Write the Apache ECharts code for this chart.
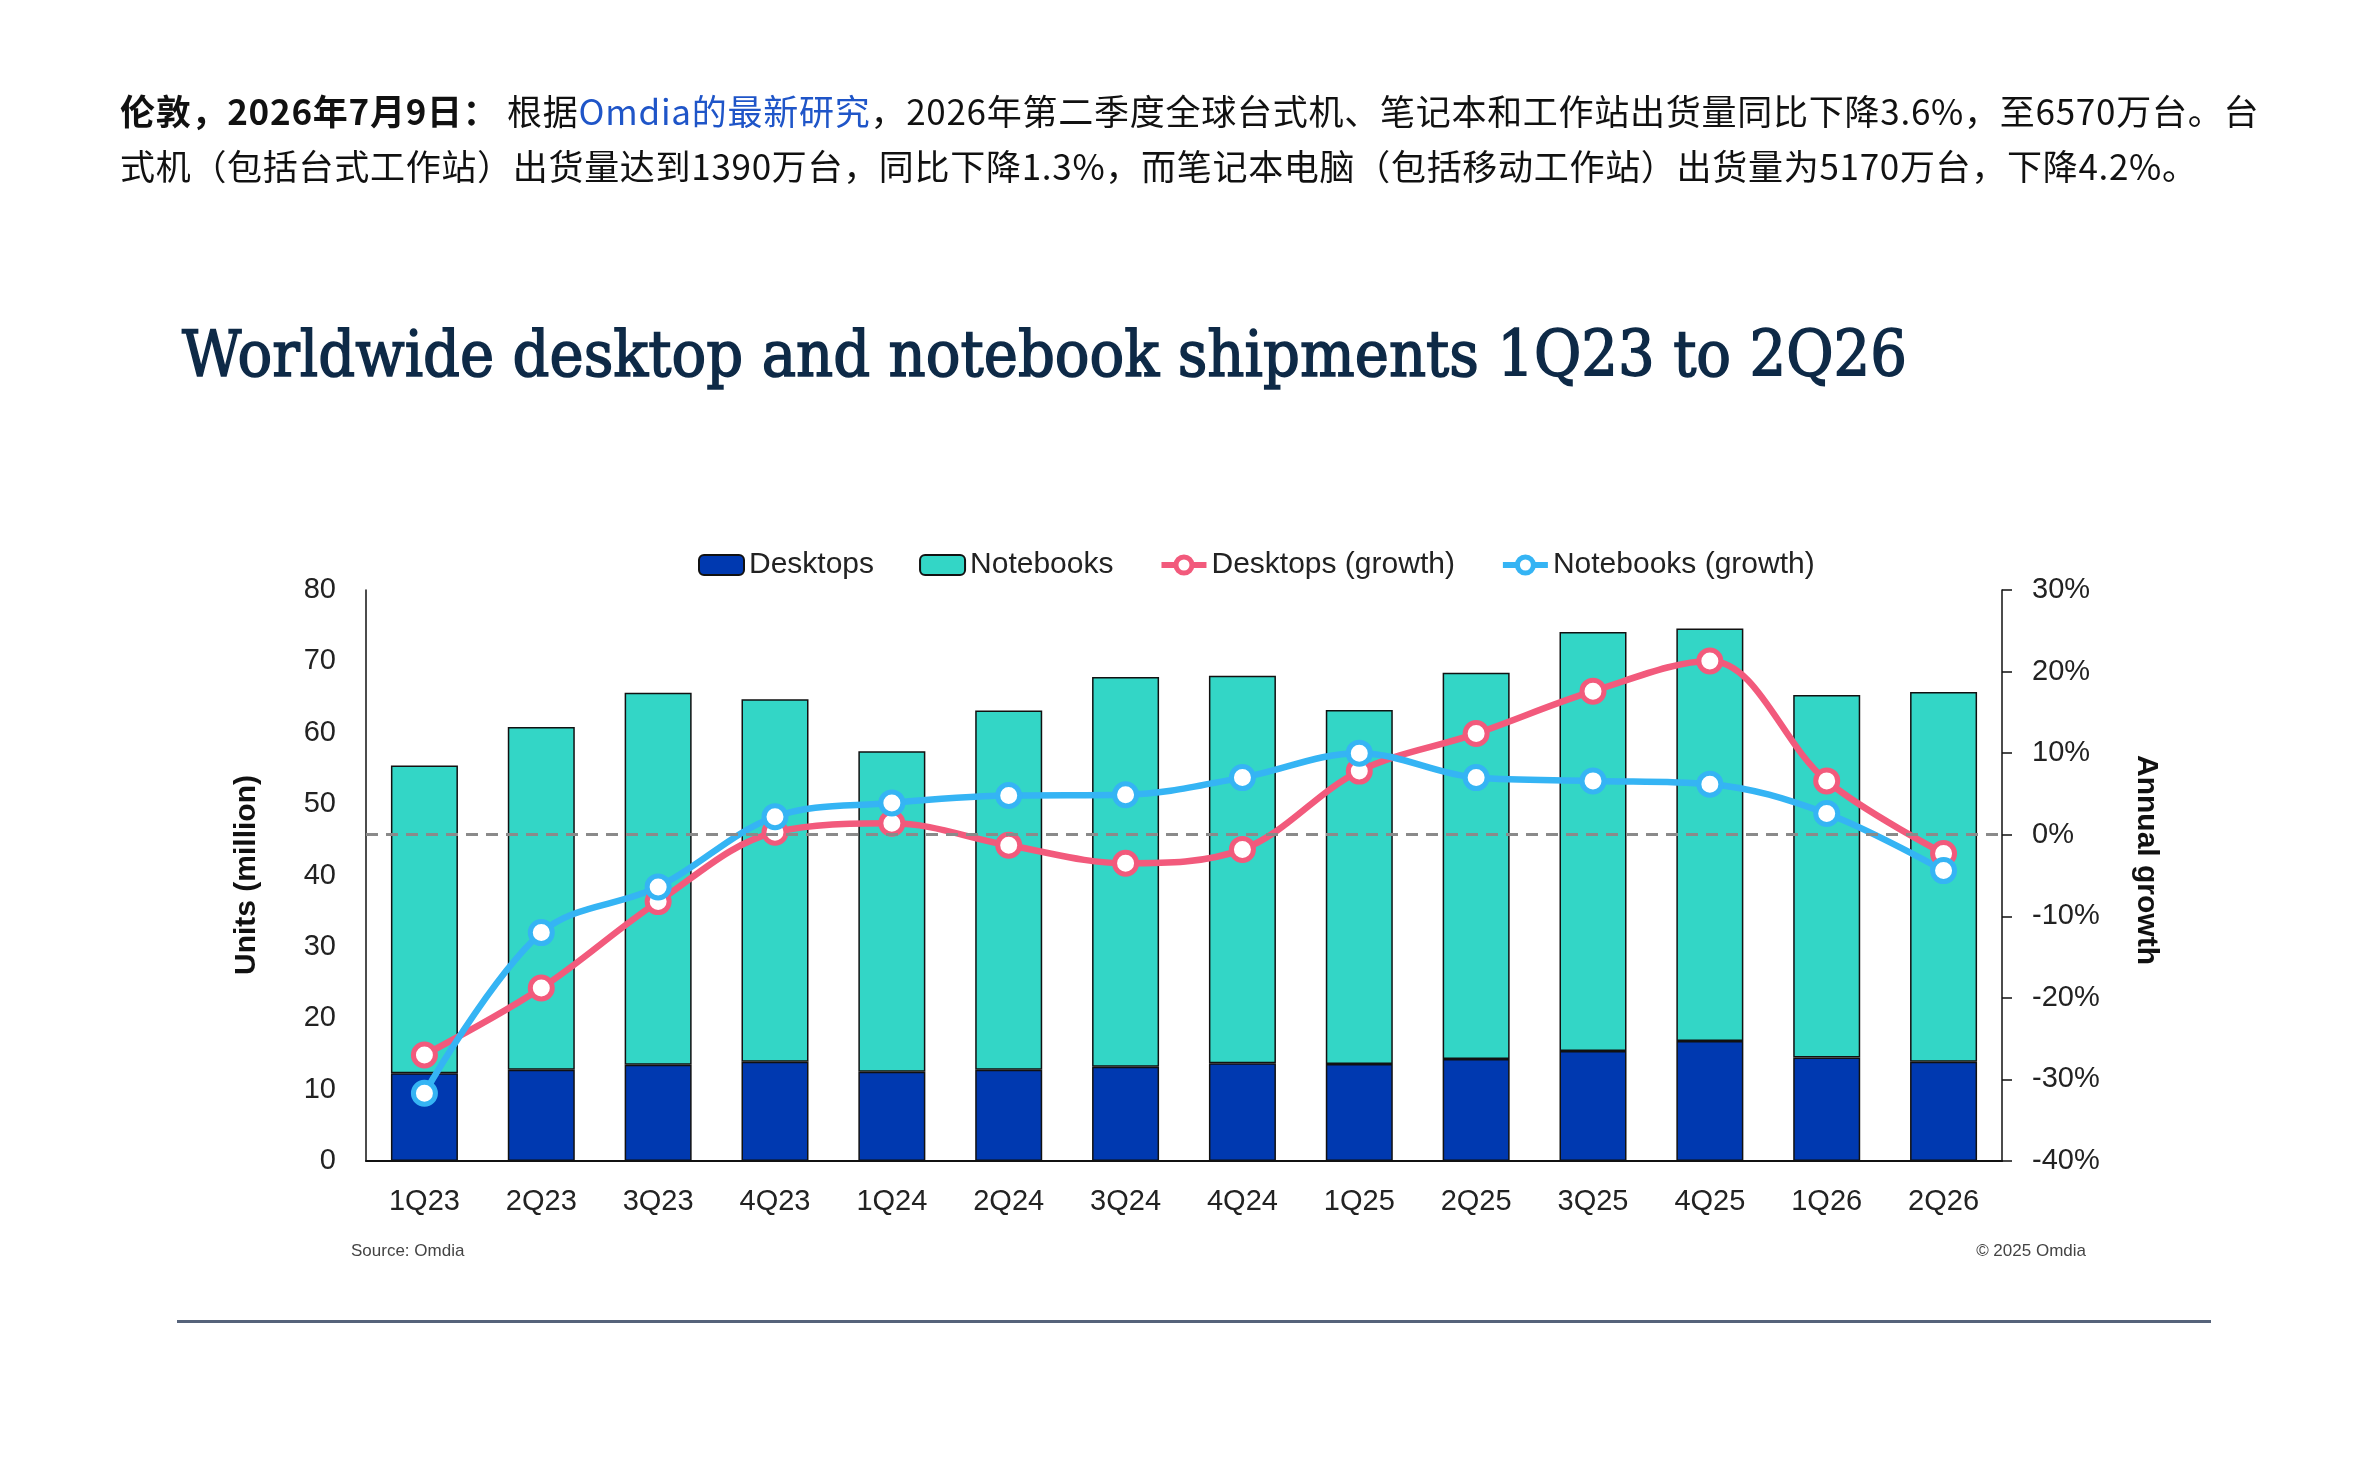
<!DOCTYPE html>
<html><head><meta charset="utf-8">
<script src="https://cdn.jsdelivr.net/npm/echarts@6/dist/echarts.min.js"></script>
<style>
html,body{margin:0;padding:0;background:#fff;width:2373px;height:1457px;overflow:hidden;}
#chart{position:absolute;left:0;top:0;width:2373px;height:1457px;}
.para{position:absolute;left:120px;font-family:'Noto Sans CJK SC',sans-serif;font-size:35px;color:#111;white-space:nowrap;line-height:1;}
.para b{font-weight:700;}
.para .lnk{color:#1f55c8;}
#title{position:absolute;left:182px;top:322px;font-family:'DejaVu Serif',serif;font-weight:normal;font-size:64px;color:#0e2a47;-webkit-text-stroke:1.6px #0e2a47;white-space:nowrap;line-height:1;transform-origin:0 0;}
#rule{position:absolute;left:177px;top:1320px;width:2034px;height:3px;background:#56637a;}
.src{position:absolute;top:1242px;font-family:'Liberation Sans',Arial,sans-serif;font-size:17px;color:#444;white-space:nowrap;line-height:1;}
</style>
</head><body>
<div id="chart"></div>
<div class="para" id="l1" style="top:92px;"><b>伦敦，2026年7月9日：</b> 根据<span class="lnk">Omdia的最新研究</span>，2026年第二季度全球台式机、笔记本和工作站出货量同比下降3.6%，至6570万台。台</div>
<div class="para" id="l2" style="top:147px;">式机（包括台式工作站）出货量达到1390万台，同比下降1.3%，而笔记本电脑（包括移动工作站）出货量为5170万台，下降4.2%。</div>
<div id="title">Worldwide desktop and notebook shipments 1Q23 to 2Q26</div>
<div class="src" style="left:351px;">Source: Omdia</div>
<div class="src" style="right:287px;">© 2025 Omdia</div>
<div id="rule"></div>
<script>
const categories = ['1Q23','2Q23','3Q23','4Q23','1Q24','2Q24','3Q24','4Q24','1Q25','2Q25','3Q25','4Q25','1Q26','2Q26'];
const desktops = [12.3,12.8,13.5,13.9,12.5,12.8,13.2,13.7,13.6,14.3,15.4,16.8,14.5,13.9];
const notebooks = [43.1,48.0,52.1,50.8,44.9,50.3,54.6,54.3,49.6,54.1,58.7,57.8,50.8,51.8];
const desktopGrowth = [-27.0,-18.8,-8.2,0.3,1.4,-1.3,-3.5,-1.8,7.8,12.4,17.6,21.3,6.6,-2.3];
const notebookGrowth = [-31.7,-12.0,-6.4,2.2,3.9,4.8,4.9,7.0,10.0,7.0,6.6,6.2,2.6,-4.4];
const seriesNames = ['Desktops','Notebooks','Desktops (growth)','Notebooks (growth)'];

// fit text widths
(function(){
  const t = document.getElementById('title');
  t.style.transform = 'scaleX(' + (1725 / t.scrollWidth) + ')';
  function fit(id, w){
    const el = document.getElementById(id);
    const n = el.textContent.length;
    el.style.letterSpacing = ((w - el.scrollWidth) / (n - 1)) + 'px';
  }
  fit('l1', 2138);
  fit('l2', 2077);
})();

const font = "'Liberation Sans', Arial, sans-serif";
const pink = '#F25A7C', blue = '#35B4F4';
const chart = echarts.init(document.getElementById('chart'), null, {renderer:'canvas'});
chart.setOption({
  animation: false,
  backgroundColor: 'transparent',
  textStyle: {fontFamily: font},
  grid: {left: 366, right: 371, top: 590, bottom: 296, containLabel: false},
  legend: {
    left: 693, top: 545, itemWidth: 45, itemHeight: 20, itemGap: 45,
    textStyle: {fontSize: 30, color: '#222', fontFamily: font},
    data: [
      {name: seriesNames[0]},
      {name: seriesNames[1]},
      {name: seriesNames[2], lineStyle: {width: 6}, itemStyle: {borderWidth: 5}},
      {name: seriesNames[3], lineStyle: {width: 6}, itemStyle: {borderWidth: 5}}
    ]
  },
  xAxis: {
    type: 'category', data: categories,
    axisLine: {lineStyle: {color: '#111', width: 2}},
    axisTick: {show: false},
    axisLabel: {fontSize: 29, color: '#222', margin: 26, fontFamily: font}
  },
  yAxis: [
    {type: 'value', min: 0, max: 80, interval: 10,
     axisLine: {show: true, lineStyle: {color: '#111', width: 1.5}},
     axisTick: {show: false}, splitLine: {show: false},
     axisLabel: {fontSize: 29, color: '#222', margin: 30, fontFamily: font}},
    {type: 'value', min: -40, max: 30, interval: 10, position: 'right',
     axisLine: {show: true, lineStyle: {color: '#111', width: 1.5}},
     axisTick: {show: true, length: 10, lineStyle: {color: '#111', width: 1.5}},
     splitLine: {show: false},
     axisLabel: {fontSize: 29, color: '#222', margin: 30, fontFamily: font, formatter: '{value}%'}}
  ],
  graphic: [
    {type: 'text', x: 247, y: 875, rotation: Math.PI / 2,
     style: {text: 'Units (million)', font: "bold 30px 'Liberation Sans', Arial, sans-serif", fill: '#111', align: 'center', verticalAlign: 'middle'}},
    {type: 'text', x: 2146, y: 860, rotation: -Math.PI / 2,
     style: {text: 'Annual growth', font: "bold 30px 'Liberation Sans', Arial, sans-serif", fill: '#111', align: 'center', verticalAlign: 'middle'}}
  ],
  series: [
    {name: seriesNames[0], type: 'bar', stack: 'total', data: desktops, barWidth: 67,
     itemStyle: {color: '#0039B0', borderColor: '#111', borderWidth: 1.5}},
    {name: seriesNames[1], type: 'bar', stack: 'total', data: notebooks, barWidth: 67,
     itemStyle: {color: '#33D6C6', borderColor: '#111', borderWidth: 1.5}},
    {name: seriesNames[2], type: 'line', yAxisIndex: 1, data: desktopGrowth, smooth: 0.35,
     symbol: 'circle', symbolSize: 22,
     lineStyle: {color: pink, width: 6.5},
     itemStyle: {color: '#fff', borderColor: pink, borderWidth: 5},
     markLine: {silent: true, symbol: 'none', label: {show: false},
       lineStyle: {color: '#8a8a8a', type: [12, 8], width: 3},
       data: [{yAxis: 0}]}},
    {name: seriesNames[3], type: 'line', yAxisIndex: 1, data: notebookGrowth, smooth: 0.35,
     symbol: 'circle', symbolSize: 22,
     lineStyle: {color: blue, width: 6.5},
     itemStyle: {color: '#fff', borderColor: blue, borderWidth: 5}}
  ]
});
</script>
</body></html>
